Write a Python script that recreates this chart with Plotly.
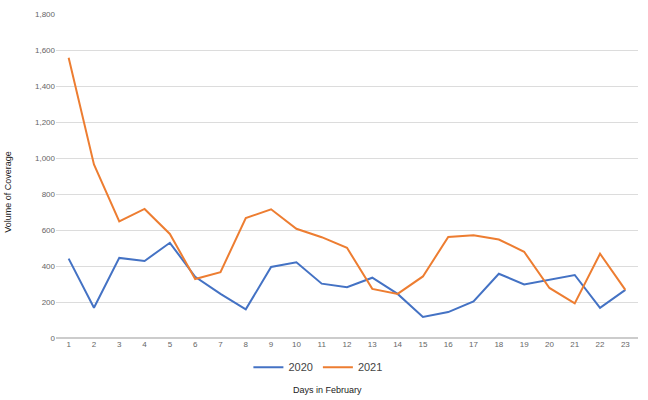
import plotly.graph_objects as go

days = [str(d) for d in range(1, 24)]
vol_2020 = [441, 168, 445, 428, 529, 340, 245, 159, 395, 421, 302, 282, 335, 245, 117, 144, 203, 357, 298, 322, 350, 168, 267]
vol_2021 = [1557, 964, 648, 717, 578, 328, 366, 666, 715, 607, 560, 501, 273, 245, 342, 561, 571, 547, 479, 278, 192, 468, 267]
y_ticks = [0, 200, 400, 600, 800, 1000, 1200, 1400, 1600, 1800]

fig = go.Figure()
fig.add_trace(go.Scatter(x=days, y=vol_2020, mode="lines", name="2020",
                         line=dict(color="#4472C4", width=2)))
fig.add_trace(go.Scatter(x=days, y=vol_2021, mode="lines", name="2021",
                         line=dict(color="#ED7D31", width=2)))

font = "Liberation Sans, Arial, sans-serif"
fig.update_layout(
    width=648, height=400,
    margin=dict(l=56, r=10, t=10, b=62),
    paper_bgcolor="white", plot_bgcolor="white",
    font=dict(family=font, size=8, color="#666666"),
    showlegend=True,
    legend=dict(orientation="h", x=0.45, xanchor="center", y=-0.09, yanchor="middle",
                font=dict(size=11, color="#444444"), itemwidth=30),
    xaxis=dict(type="category", range=[-0.5, 22.5], showgrid=False, showline=False,
               ticks="", tickfont=dict(size=8, color="#666666"), zeroline=False),
    yaxis=dict(range=[0, 1800], tickvals=y_ticks, tickformat=",", showgrid=True,
               gridcolor="#dcdcdc", gridwidth=1, zeroline=True, zerolinecolor="#cccccc",
               showline=False, ticks="", tickfont=dict(size=8, color="#666666")),
    annotations=[
        dict(text="Days in February", xref="paper", yref="paper", x=0.466, y=-0.159,
             showarrow=False, font=dict(size=9, color="#222222"), xanchor="center", yanchor="middle"),
        dict(text="Volume of Coverage", xref="paper", yref="paper", x=-0.0825, y=0.451,
             showarrow=False, textangle=-90, font=dict(size=9, color="#222222"),
             xanchor="center", yanchor="middle"),
    ],
)

fig.write_html("out.html", config={"displayModeBar": False},
               post_script="document.body.style.margin='0';document.body.style.padding='0';")
